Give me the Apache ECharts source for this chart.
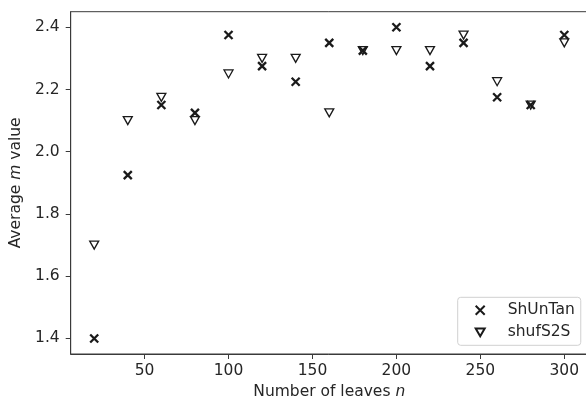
<!DOCTYPE html>
<html>
<head>
<meta charset="utf-8">
<script src="https://cdn.jsdelivr.net/npm/echarts@6/dist/echarts.min.js"></script>
<style>
  html, body { margin: 0; padding: 0; background: #fff; }
  #chart { width: 586px; height: 402px; }
</style>
</head>
<body>
<div id="chart"></div>
<script>
  // number of leaves
  const leaves = [20, 40, 60, 80, 100, 120, 140, 160, 180, 200, 220, 240, 260, 280, 300];
  const shUnTan = [1.40, 1.925, 2.15, 2.125, 2.375, 2.275, 2.225, 2.35, 2.325, 2.40, 2.275, 2.35, 2.175, 2.15, 2.375];
  const shufS2S = [1.70, 2.10, 2.175, 2.10, 2.25, 2.30, 2.30, 2.125, 2.325, 2.325, 2.325, 2.375, 2.225, 2.15, 2.35];
  const xTicks = [50, 100, 150, 200, 250, 300];
  const yTicks = [1.4, 1.6, 1.8, 2.0, 2.2, 2.4];

  const FONT = 'DejaVu Sans';
  const FS = 15.5;
  const TEXT = '#262626';
  const SPINE = '#3a3a3a';
  const crossPath = 'path://M0,0L10,10M0,10L10,0';
  const triPath = 'path://M0,0L10,0L5,8.66Z';

  const chart = echarts.init(document.getElementById('chart'));

  const option = {
    animation: false,
    grid: {
      left: 70.7,
      top: 11.7,
      right: -1.8,
      bottom: 48,
      show: true,
      borderColor: SPINE,
      borderWidth: 1,
      containLabel: false,
      outerBoundsMode: 'none'
    },
    xAxis: {
      type: 'value',
      min: 6,
      max: 314,
      name: '{a|Number of leaves }{i|n}',
      nameLocation: 'middle',
      nameGap: 26,
      nameTextStyle: {
        rich: {
          a: { fontFamily: FONT, fontSize: FS, color: TEXT },
          i: { fontFamily: FONT, fontSize: FS, color: TEXT, fontStyle: 'italic' }
        }
      },
      splitLine: { show: false },
      axisLine: { show: true, lineStyle: { color: SPINE, width: 1 } },
      axisTick: { show: true, length: 5, customValues: xTicks, lineStyle: { color: SPINE } },
      axisLabel: { customValues: xTicks, margin: 9, fontFamily: FONT, fontSize: FS, color: TEXT }
    },
    yAxis: {
      type: 'value',
      min: 1.35,
      max: 2.45,
      name: '{a|Average }{i|m}{a| value}',
      nameLocation: 'middle',
      nameRotate: 90,
      nameGap: 42,
      nameTextStyle: {
        rich: {
          a: { fontFamily: FONT, fontSize: FS, color: TEXT },
          i: { fontFamily: FONT, fontSize: FS, color: TEXT, fontStyle: 'italic' }
        }
      },
      splitLine: { show: false },
      axisLine: { show: true, lineStyle: { color: SPINE, width: 1 } },
      axisTick: { show: true, length: 5, customValues: yTicks, lineStyle: { color: SPINE } },
      axisLabel: {
        customValues: yTicks,
        margin: 11,
        fontFamily: FONT,
        fontSize: FS,
        color: TEXT,
        formatter: v => v.toFixed(1)
      }
    },
    legend: {
      orient: 'vertical',
      left: 457.7,
      top: 297.3,
      padding: [5, 6, 5, 17],
      itemWidth: 9,
      itemHeight: 9,
      itemGap: 6,
      borderColor: '#d0d0d0',
      borderWidth: 1,
      borderRadius: 3,
      backgroundColor: 'rgba(255,255,255,0.8)',
      textStyle: { fontFamily: FONT, fontSize: FS, color: TEXT, padding: [0, 0, 0, 18] },
      data: [
        { name: 'ShUnTan', icon: crossPath },
        { name: 'shufS2S', icon: triPath }
      ]
    },
    series: [
      {
        name: 'ShUnTan',
        type: 'scatter',
        symbol: crossPath,
        symbolSize: 8,
        itemStyle: { color: 'transparent', borderColor: '#1a1a1a', borderWidth: 2.3, opacity: 1 },
        data: leaves.map((x, i) => [x, shUnTan[i]]),
        z: 3
      },
      {
        name: 'shufS2S',
        type: 'scatter',
        symbol: triPath,
        symbolSize: [9, 8],
        itemStyle: { color: '#fff', borderColor: '#1a1a1a', borderWidth: 1.3, opacity: 1 },
        data: leaves.map((x, i) => [x, shufS2S[i]]),
        z: 2
      }
    ]
  };

  chart.setOption(option);
</script>
</body>
</html>
